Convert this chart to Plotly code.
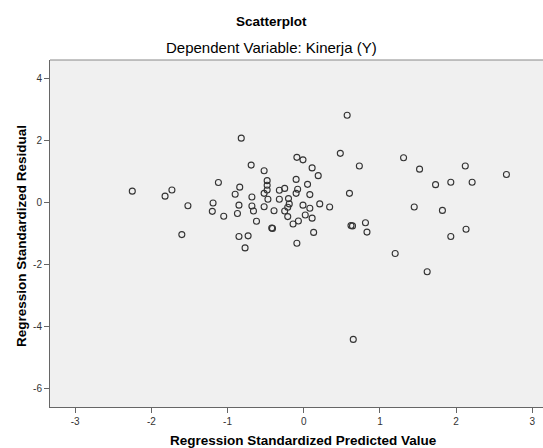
import plotly.graph_objects as go

# Regression standardized predicted values (x) and residuals (y)
pred = [
    -0.82, -2.25, -1.82, -1.73, -1.52, -1.60, -1.12, -1.19, -1.20, -1.05,
    -0.84, -0.90, -0.85, -0.87, -0.85, -0.73, -0.77, -0.69, -0.68, -0.68,
    -0.66, -0.62, -0.52, -0.48, -0.48, -0.48, -0.52, -0.47, -0.52, -0.39,
    -0.42, -0.41, -0.32, -0.25, -0.32, -0.20, -0.19, -0.21, -0.25, -0.21,
    -0.14, -0.07, -0.09, -0.09, -0.01, 0.11, 0.19, -0.10, 0.05, -0.08,
    -0.10, 0.08, -0.01, 0.08, 0.02, 0.11, 0.13, 0.21,
    0.57, 0.48, 0.73, 0.60, 0.34, 0.62, 0.64, 0.81, 0.83, 1.31,
    1.52, 2.12, 2.66, 1.73, 1.93, 2.21, 1.45, 1.82, 2.13, 1.93,
    1.20, 1.62, 0.65,
]
resid = [
    2.07, 0.36, 0.20, 0.40, -0.11, -1.04, 0.64, -0.02, -0.29, -0.45,
    0.49, 0.26, -0.09, -0.36, -1.10, -1.08, -1.47, 1.20, 0.17, -0.12,
    -0.28, -0.61, 1.02, 0.70, 0.55, 0.40, 0.29, 0.10, -0.14, -0.27,
    -0.83, -0.84, 0.39, 0.45, 0.10, 0.12, -0.05, -0.16, -0.28, -0.46,
    -0.70, -0.60, -1.32, 1.45, 1.37, 1.11, 0.86, 0.74, 0.58, 0.42,
    0.29, 0.25, -0.09, -0.19, -0.41, -0.51, -0.97, -0.05,
    2.81, 1.58, 1.17, 0.29, -0.15, -0.75, -0.76, -0.66, -0.96, 1.44,
    1.07, 1.17, 0.90, 0.57, 0.65, 0.65, -0.15, -0.26, -0.87, -1.10,
    -1.65, -2.24, -4.42,
]
x_ticks = [-3, -2, -1, 0, 1, 2, 3]
y_ticks = [-6, -4, -2, 0, 2, 4]

title = "Scatterplot"
subtitle = "Dependent Variable: Kinerja (Y)"
x_title = "Regression Standardized Predicted Value"
y_title = "Regression Standardized Residual"

FONT = "Liberation Sans, Arial, sans-serif"
W, H = 543, 448
L, R, T, B = 50, 0, 60, 41
pw, ph = W - L - R, H - T - B


def px_to_paper(px, py):
    return (px - L) / pw, (H - B - py) / ph


fig = go.Figure()
fig.add_trace(go.Scatter(
    x=pred, y=resid, mode="markers",
    marker=dict(symbol="circle-open", size=6, color="#333333",
                line=dict(width=1.1, color="#333333")),
    hoverinfo="x+y", showlegend=False,
))

anns = []
for text, (px, py), size, angle in [
    ("<b>" + title + "</b>", (271, 21), 13.5, 0),
    (subtitle, (271, 47), 15, 0),
    ("<b>" + x_title + "</b>", (303, 440), 13.5, 0),
    ("<b>" + y_title + "</b>", (21, 236), 13.5, -90),
]:
    ax, ay = px_to_paper(px, py)
    anns.append(dict(text=text, x=ax, y=ay, xref="paper", yref="paper",
                     xanchor="center", yanchor="middle", showarrow=False,
                     textangle=angle, font=dict(size=size, family=FONT, color="#000000")))

fig.update_layout(
    width=W, height=H,
    margin=dict(l=L, r=R, t=T, b=B, autoexpand=False),
    paper_bgcolor="white",
    plot_bgcolor="#F0F0F0",
    font=dict(family=FONT, color="#000000"),
    annotations=anns,
)

fig.update_xaxes(
    range=[-3.33, 3.14], tickvals=x_ticks, ticktext=[str(v) for v in x_ticks],
    showgrid=False, zeroline=False, automargin=False,
    showline=True, linecolor="#666666", linewidth=1,
    ticks="outside", ticklen=5, tickcolor="#666666",
    tickfont=dict(size=10, color="#333333"),
)
fig.update_yaxes(
    range=[-6.6, 4.59], tickvals=y_ticks, ticktext=[str(v) for v in y_ticks],
    showgrid=False, zeroline=False, automargin=False,
    showline=True, linecolor="#666666", linewidth=1,
    ticks="outside", ticklen=5, tickcolor="#666666",
    tickfont=dict(size=10, color="#333333"),
)
fig.add_shape(type="line", xref="paper", yref="paper", x0=0, x1=1, y0=1, y1=1,
              line=dict(color="#888888", width=1))

fig.write_html(
    "out.html",
    config={"displayModeBar": False},
    post_script="document.body.style.margin='0';document.body.style.overflow='hidden';",
)
